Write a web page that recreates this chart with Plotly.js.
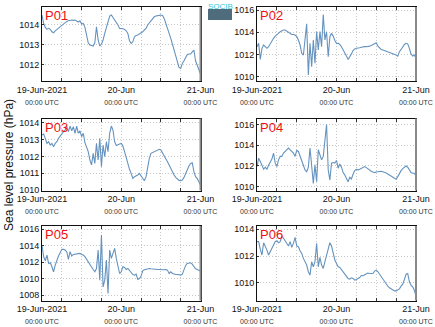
<!DOCTYPE html>
<html><head><meta charset="utf-8">
<script src="https://cdn.plot.ly/plotly-3.0.1.min.js"></script>
<style>html,body{margin:0;padding:0;background:#fff}#c{width:435px;height:327px}</style>
</head><body><div id="c"></div>
<script>
// Panel names
const stations = ["P01","P02","P03","P04","P05","P06"];
// Half-hourly samples from 19-Jun-2021 00:00 UTC to 21-Jun-2021 00:00 UTC (97 values)
const startTime = "2021-06-19T00:00:00Z";
const stepMinutes = 30;
const p01 = [1014.47,1014.05,1013.85,1013.75,1013.8,1013.75,1013.63,1013.58,1013.68,1013.75,1013.8,1013.88,1013.93,1014.02,1014.08,1014.15,1014.18,1014.22,1014.22,1014.2,1014.22,1014.17,1014.12,1014.18,1014.02,1014.05,1013.85,1013.47,1013.08,1012.97,1012.95,1012.92,1013.08,1013.88,1013.22,1012.92,1013.02,1013.22,1013.55,1013.88,1014.18,1014.42,1014.47,1014.35,1014.22,1014.13,1013.97,1013.8,1013.8,1013.78,1013.75,1013.68,1013.55,1013.18,1013.05,1013.13,1013.38,1013.45,1013.47,1013.52,1013.58,1013.63,1013.72,1013.8,1013.97,1014.08,1014.22,1014.3,1014.38,1014.42,1014.45,1014.45,1014.47,1014.45,1014.3,1014.08,1013.85,1013.55,1013.3,1013.02,1012.72,1012.42,1012.08,1011.85,1011.8,1012.05,1012.18,1012.38,1012.5,1012.52,1012.52,1012.63,1012.72,1012.18,1011.97,1011.8,1011.52];
const p02 = [1012.7,1013.0,1011.55,1012.55,1012.85,1012.7,1012.55,1012.7,1013.0,1013.3,1013.45,1013.65,1013.75,1013.9,1014.05,1014.15,1014.2,1014.2,1014.1,1013.95,1013.9,1013.8,1013.8,1013.75,1013.6,1013.3,1012.85,1012.1,1011.95,1013.75,1014.75,1010.15,1013.0,1010.9,1013.3,1011.2,1014.05,1012.4,1014.05,1012.7,1015.6,1013.3,1014.05,1011.8,1013.6,1013.9,1013.65,1013.25,1013.0,1013.0,1012.9,1012.7,1012.45,1012.15,1011.85,1011.55,1011.75,1012.05,1012.35,1012.5,1012.55,1012.55,1012.6,1012.65,1012.7,1012.7,1012.7,1012.7,1012.75,1012.8,1012.9,1013.0,1013.05,1012.75,1012.55,1012.45,1012.4,1012.35,1012.25,1012.2,1012.15,1012.1,1012.05,1012.0,1011.95,1011.85,1012.25,1012.45,1012.7,1012.9,1013.0,1012.95,1012.55,1012.05,1011.85,1011.95,1011.65];
const p03 = [1013.27,1013.33,1013.07,1012.77,1012.87,1012.67,1012.77,1012.57,1012.77,1012.87,1013.07,1013.21,1013.37,1013.47,1013.56,1013.76,1013.47,1013.8,1013.52,1013.76,1013.37,1013.8,1013.37,1013.52,1013.17,1013.37,1012.81,1012.57,1012.28,1011.78,1011.49,1012.18,1011.58,1012.77,1011.78,1013.07,1011.39,1012.67,1011.98,1012.87,1012.28,1013.37,1013.8,1013.56,1012.87,1012.65,1012.67,1012.73,1012.77,1012.61,1012.28,1011.88,1011.58,1011.23,1010.99,1010.69,1010.79,1010.83,1010.89,1010.99,1010.83,1010.63,1010.55,1010.79,1011.39,1011.88,1012.18,1012.22,1012.28,1012.32,1012.38,1012.42,1012.38,1012.22,1012.06,1011.88,1011.68,1011.49,1011.27,1011.07,1010.89,1010.75,1010.63,1010.57,1010.55,1010.59,1010.75,1010.99,1011.23,1011.43,1011.58,1011.62,1011.09,1010.79,1010.69,1010.53,1010.3];
const p04 = [1011.94,1012.75,1012.43,1012.04,1011.68,1011.88,1011.68,1012.07,1012.33,1012.66,1013.24,1012.27,1011.94,1012.59,1012.92,1012.92,1013.24,1013.4,1013.63,1013.73,1013.56,1013.4,1013.24,1012.92,1013.5,1013.4,1012.92,1012.53,1012.17,1011.62,1011.45,1011.88,1013.73,1011.62,1010.32,1012.1,1010.48,1013.56,1013.08,1012.59,1012.92,1014.38,1016.0,1011.62,1010.64,1012.27,1012.33,1012.27,1012.53,1011.78,1012.2,1011.88,1011.36,1011.13,1010.87,1010.48,1010.9,1010.74,1011.2,1011.55,1011.68,1011.62,1011.68,1011.78,1011.84,1011.94,1011.84,1011.71,1011.62,1011.49,1011.42,1011.36,1011.42,1011.45,1011.45,1011.49,1011.45,1011.42,1011.32,1011.23,1011.13,1011.06,1010.97,1010.84,1010.71,1010.97,1011.29,1011.55,1011.75,1011.91,1012.0,1011.88,1011.55,1011.36,1011.29,1011.29,1011.03];
const p05 = [1014.09,1012.67,1012.18,1012.87,1011.85,1011.93,1011.45,1010.84,1011.65,1012.34,1012.75,1013.15,1013.56,1013.56,1013.48,1013.28,1012.34,1013.28,1012.75,1012.95,1012.99,1012.99,1013.07,1013.07,1012.95,1012.87,1012.67,1012.34,1012.06,1011.65,1011.33,1011.12,1010.84,1011.24,1013.48,1009.82,1015.31,1009.0,1009.82,1012.26,1008.2,1013.48,1012.46,1013.07,1013.68,1012.46,1011.65,1010.63,1010.84,1011.45,1011.37,1011.12,1011.24,1010.96,1010.72,1010.51,1010.43,1010.55,1009.9,1010.02,1010.31,1010.96,1011.08,1011.16,1011.2,1011.24,1011.2,1011.16,1011.12,1011.12,1011.12,1011.12,1011.08,1011.04,1011.08,1011.12,1011.04,1010.63,1010.84,1010.63,1010.55,1010.51,1010.51,1010.47,1010.43,1010.55,1011.12,1011.61,1011.85,1011.85,1011.93,1011.77,1011.45,1011.2,1011.12,1011.04,1010.92];
const p06 = [1013.08,1013.08,1012.5,1012.08,1013.0,1012.75,1012.45,1012.08,1012.33,1012.58,1012.9,1013.08,1013.15,1013.0,1013.08,1013.5,1013.33,1013.15,1012.9,1012.75,1013.08,1012.65,1012.95,1013.4,1012.75,1012.7,1012.4,1012.2,1011.83,1011.58,1011.33,1010.83,1010.58,1011.58,1011.2,1011.58,1012.95,1011.2,1011.9,1011.33,1011.08,1011.58,1012.0,1012.58,1013.0,1012.75,1012.2,1011.7,1011.45,1011.2,1011.15,1011.0,1010.83,1010.7,1010.5,1010.33,1010.28,1010.38,1010.33,1010.2,1010.25,1010.3,1010.4,1010.55,1010.53,1010.6,1010.68,1010.73,1010.7,1010.68,1010.7,1010.88,1010.95,1010.83,1010.65,1010.45,1010.28,1010.05,1009.88,1009.75,1009.63,1009.53,1009.45,1009.4,1009.4,1009.45,1009.55,1009.75,1009.9,1010.25,1010.65,1010.7,1010.08,1009.83,1009.7,1009.45,1009.0];
const series = [p01,p02,p03,p04,p05,p06];
// Y tick labels per panel
const yTicks = [[1012,1013,1014],[1010,1012,1014,1016],[1010,1011,1012,1013,1014],[1010,1012,1014,1016],[1008,1010,1012,1014,1016],[1010,1012,1014]];
const yRanges = [[1011.17,1014.87],[1009.61,1016.27],[1009.97,1014.25],[1009.63,1016.58],[1007.35,1016.4],[1008.68,1014.25]];
// X tick labels
const xTickVals = ["2021-06-19 00:00","2021-06-20 00:00","2021-06-21 00:00"];
const xTickDay = ["19-Jun-2021","20-Jun","21-Jun"];
const xTickTime = ["00:00 UTC","00:00 UTC","00:00 UTC"];
const yTitle = "Sea level pressure (hPa)";

const W=435,H=327;
const t0 = new Date(startTime).getTime();
function times(n){const a=[];for(let i=0;i<n;i++){const d=new Date(t0+i*stepMinutes*60000);a.push(d.toISOString().slice(0,16).replace('T',' '));}return a;}

const colX=[[42,200.5],[257,416]];
const rowY=[[7,81],[118.5,190.5],[226,300.5]];
const GRID='#c8c8c8', DASH='1px,2px';
const traces=[];const layout={width:W,height:H,margin:{l:0,r:0,t:0,b:0},paper_bgcolor:'#fff',plot_bgcolor:'#fff',showlegend:false,annotations:[],shapes:[],font:{family:'Liberation Sans, Arial, sans-serif',color:'#111'}};
const tickText = xTickDay.map((d,i)=>d+'<br><span style="font-size:7px;color:#333">'+xTickTime[i]+'</span>');
series.forEach((vals,k)=>{
  const col=k%2,row=Math.floor(k/2);
  const xa='x'+(k?k+1:''),ya='y'+(k?k+1:'');
  traces.push({type:'scatter',mode:'lines',x:times(vals.length),y:vals,xaxis:xa,yaxis:ya,line:{color:'#6593bf',width:1.1},hoverinfo:'skip'});
  const xn='xaxis'+(k?k+1:''),yn='yaxis'+(k?k+1:'');
  layout[xn]={type:'date',domain:[colX[col][0]/W,colX[col][1]/W],anchor:ya,range:["2021-06-19 00:00","2021-06-21 00:00"],
    tickmode:'array',tickvals:xTickVals,ticktext:tickText,tickfont:{size:9,color:'#111'},ticks:'inside',ticklen:3,tickcolor:'#333',
    showgrid:true,gridcolor:GRID,griddash:DASH,gridwidth:1,showline:true,linecolor:'#111',linewidth:1,mirror:'ticks',zeroline:false,
    minor:{dtick:6*3600000,tick0:"2021-06-19",showgrid:true,gridcolor:GRID,griddash:DASH,gridwidth:1,ticks:'inside',ticklen:3,tickcolor:'#333'}};
  layout[yn]={domain:[1-rowY[row][1]/H,1-rowY[row][0]/H],anchor:xa,range:yRanges[k],tickmode:'array',tickvals:yTicks[k],
    tickfont:{size:9,color:'#111'},ticks:'inside',ticklen:2,tickcolor:'#333',showgrid:true,gridcolor:GRID,griddash:DASH,gridwidth:1,
    showline:true,linecolor:'#111',linewidth:1,mirror:true,zeroline:false};
  layout.shapes.push({type:'line',xref:xa+' domain',yref:ya+' domain',x0:1,x1:1,y0:0,y1:1,line:{color:'#8a8a8a',width:2}});
  layout.annotations.push({text:stations[k],xref:xa+' domain',yref:ya+' domain',x:0.005,y:1.01,xanchor:'left',yanchor:'top',showarrow:false,font:{size:13,color:'#ee1111',family:'Liberation Sans, Arial, sans-serif'}});
});
layout.annotations.push({text:yTitle,xref:'paper',yref:'paper',x:9/W,y:1-165/H,xanchor:'center',yanchor:'middle',textangle:-90,showarrow:false,font:{size:12,color:'#111'}});
// logo
layout.shapes.push({type:'rect',xref:'paper',yref:'paper',x0:208/W,x1:232/W,y0:1-20/H,y1:1-9/H,line:{width:0},fillcolor:'#4f6c7c'});
layout.annotations.push({text:'SOCIB',xref:'paper',yref:'paper',x:220/W,y:1-0.5/H,xanchor:'center',yanchor:'top',showarrow:false,font:{size:8,color:'#34c6d8'}});
Plotly.newPlot('c',traces,layout,{staticPlot:true});
</script></body></html>
